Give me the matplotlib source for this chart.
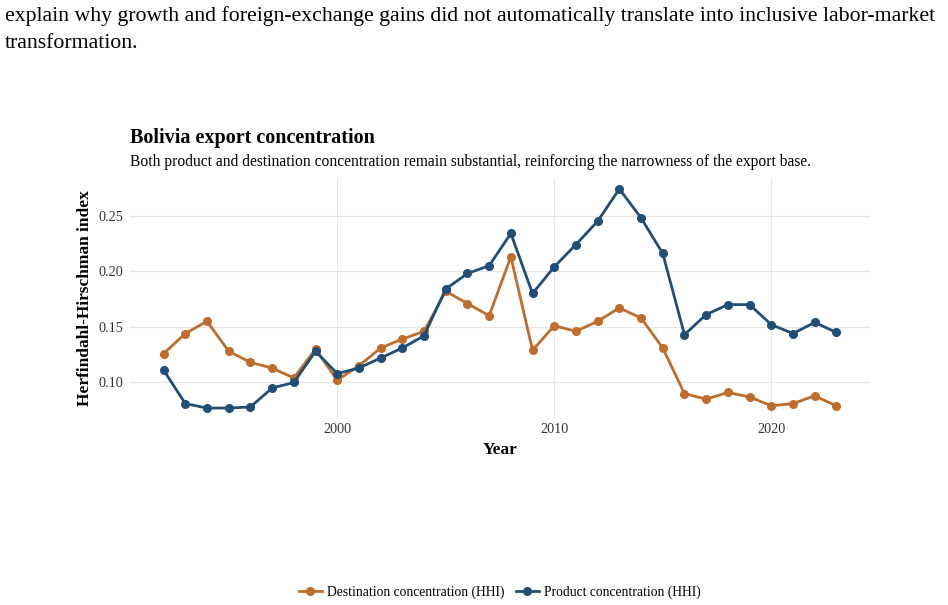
#!/usr/bin/env python3

import matplotlib
matplotlib.use('agg')
import matplotlib.pyplot as plt
import numpy as np


years = list(range(1992, 2024))

destination_hhi = [0.126, 0.144, 0.155, 0.128, 0.118, 0.113, 0.104, 0.130,
                   0.102, 0.115, 0.131, 0.139, 0.146, 0.182, 0.171, 0.160,
                   0.213, 0.129, 0.151, 0.146, 0.155, 0.167, 0.158, 0.131,
                   0.090, 0.085, 0.091, 0.087, 0.079, 0.081, 0.088, 0.079]

product_hhi = [0.111, 0.081, 0.077, 0.077, 0.078, 0.095, 0.100, 0.128,
               0.108, 0.113, 0.122, 0.131, 0.142, 0.184, 0.198, 0.205,
               0.234, 0.180, 0.204, 0.224, 0.245, 0.274, 0.248, 0.216,
               0.143, 0.161, 0.170, 0.170, 0.152, 0.144, 0.154, 0.145]

y_ticks = [0.10, 0.15, 0.20, 0.25]
x_ticks = [2000, 2010, 2020]

ORANGE = '#C06C2B'
BLUE = '#1F4E79'
GRID = '#E6E6E6'
SERIF = ['Liberation Serif', 'DejaVu Serif']

plt.rcParams['font.family'] = SERIF

fig = plt.figure(figsize=(9.48, 6.05), dpi=100)

# surrounding document text
fig.text(5 / 948, 1 - 16 / 605,
         'explain why growth and foreign-exchange gains did not automatically '
         'translate into inclusive labor-market',
         fontsize=15.7, va='center', ha='left')
fig.text(5 / 948, 1 - 44 / 605, 'transformation.',
         fontsize=15.7, va='center', ha='left')

ax = fig.add_axes([130 / 948, 1 - 419 / 605, 740 / 948, 241 / 605])

ax.plot(years, destination_hhi, color=ORANGE, lw=2, marker='o', ms=5.5,
        label='Destination concentration (HHI)', zorder=3)
ax.plot(years, product_hhi, color=BLUE, lw=2, marker='o', ms=5.5,
        label='Product concentration (HHI)', zorder=3)

xr = years[-1] - years[0]
ax.set_xlim(years[0] - 0.05 * xr, years[-1] + 0.05 * xr)
allv = np.array(destination_hhi + product_hhi)
yr = allv.max() - allv.min()
ax.set_ylim(allv.min() - 0.05 * yr, allv.max() + 0.05 * yr)

ax.set_xticks(x_ticks)
ax.set_yticks(y_ticks)
ax.set_yticklabels(['%.2f' % v for v in y_ticks])
ax.grid(True, color=GRID, lw=0.8)
ax.set_axisbelow(True)
for s in ax.spines.values():
    s.set_visible(False)
ax.tick_params(length=0, labelsize=10.3, colors='#333333')
ax.tick_params(axis='x', pad=3)
ax.tick_params(axis='y', pad=5)

ax.set_xlabel('Year', fontsize=12.5, fontweight='bold', labelpad=4)
ax.set_ylabel('Herfindahl-Hirschman index', fontsize=12.5,
              fontweight='bold', labelpad=4)

fig.text(130 / 948, 1 - 138 / 605, 'Bolivia export concentration',
         fontsize=14.5, fontweight='bold', va='center', ha='left')
fig.text(130 / 948, 1 - 162 / 605,
         'Both product and destination concentration remain substantial, '
         'reinforcing the narrowness of the export base.',
         fontsize=11.2, va='center', ha='left')

fig.legend(loc='center', bbox_to_anchor=(500 / 948, 1 - 592 / 605), ncol=2,
           frameon=False, fontsize=9.8, handlelength=1.7, columnspacing=0.8,
           handletextpad=0.4)

fig.savefig('out.png', dpi=100)
